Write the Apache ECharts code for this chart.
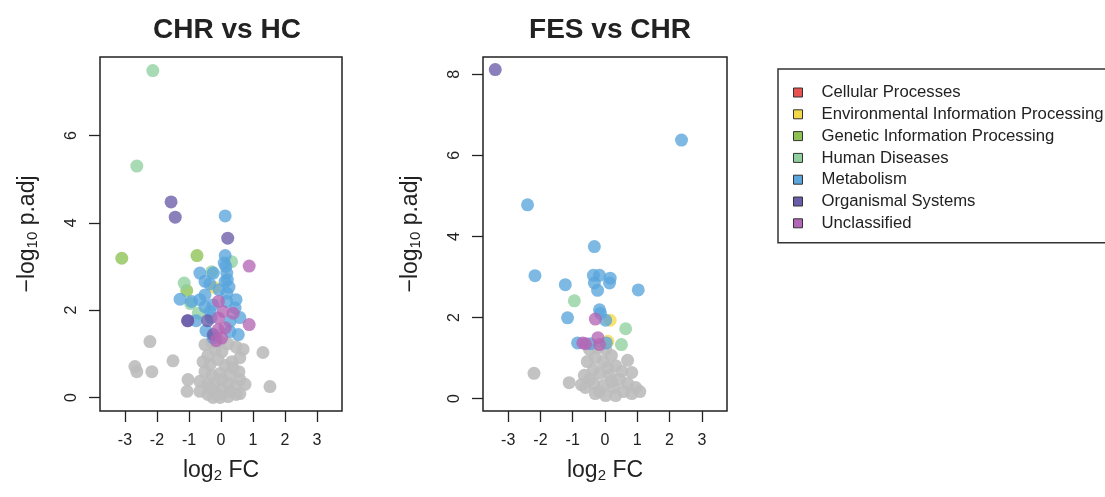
<!DOCTYPE html>
<html>
<head>
<meta charset="utf-8">
<title>Volcano plots</title>
<script src="https://cdn.jsdelivr.net/npm/echarts@6/dist/echarts.min.js"></script>
<style>
    html, body { margin: 0; padding: 0; background: #fff; }
    #chart { width: 1105px; height: 497px; }
</style>
</head>
<body>
<div id="chart"></div>
<script>
// categorias do KEGG (ordem da legenda)
const categories = [
    'Cellular Processes',
    'Environmental Information Processing',
    'Genetic Information Processing',
    'Human Diseases',
    'Metabolism',
    'Organismal Systems',
    'Unclassified'
];
const categoryColors = ['#e8524f', '#f3d84a', '#8dc153', '#8fcf9f', '#5aa5dc', '#6a5ca8', '#b366b5'];
const greyColor = '#bdbdbd';

const xTicks = [-3, -2, -1, 0, 1, 2, 3];
const yTicksHc = [0, 2, 4, 6];
const yTicksFes = [0, 2, 4, 6, 8];
const panelTitles = ['CHR vs HC', 'FES vs CHR'];

// --- CHR vs HC: [log2 FC, -log10 p.adj] ---
const hcCellular = [];
const hcEnvironmental = [[-0.21, 2.52]];
const hcGenetic = [[-3.10, 3.19], [-0.75, 3.25], [-1.07, 2.45]];
const hcHuman = [[-2.13, 7.49], [-2.63, 5.30], [0.33, 3.11], [-0.29, 2.88], [-1.15, 2.62], [-0.71, 1.93], [-0.95, 2.15]];
const hcMetabolism = [
    [0.13, 4.16], [0.13, 3.25], [0.10, 3.08], [-0.66, 2.85], [-0.24, 2.85], [0.18, 2.85], [0.13, 2.66],
    [-0.50, 2.66], [-1.28, 2.25], [-0.92, 2.20], [-0.50, 2.35], [0.18, 2.39], [0.18, 2.20], [-0.50, 2.08],
    [0.44, 2.05], [-0.34, 1.97], [0.28, 1.74], [0.28, 1.51], [0.54, 1.44], [-0.06, 2.47], [0.25, 2.53],
    [-0.66, 2.24], [-0.25, 2.12], [-0.78, 1.76], [-0.31, 1.83], [0.59, 1.83], [0.47, 2.24], [-0.47, 1.53],
    [-0.25, 1.37], [0.15, 3.00], [0.20, 2.70], [-0.35, 2.60]
];
const hcOrganismal = [[-1.56, 4.48], [-1.43, 4.13], [0.21, 3.65], [-1.04, 1.76], [-1.04, 1.76], [-0.42, 1.76], [-0.24, 1.44]];
const hcUnclassified = [[0.88, 3.01], [-0.08, 2.20], [0.07, 1.97], [0.38, 1.93], [-0.08, 1.82], [0.88, 1.67], [0.02, 1.36], [-0.09, 1.55], [0.13, 1.60], [-0.15, 1.30]];
const hcNotSig = [
    [-2.22, 1.28], [-2.69, 0.71], [-2.63, 0.59], [-2.16, 0.59], [-1.50, 0.84], [1.31, 1.03], [1.53, 0.25],
    [-1.03, 0.41], [-1.06, 0.14], [0.59, 0.09], [-0.50, 1.21], [-0.28, 1.26], [-0.03, 1.28], [0.22, 1.23],
    [0.47, 1.16], [0.69, 1.10], [0.59, 0.91], [0.34, 0.82], [0.03, 1.05], [-0.19, 1.10], [-0.41, 0.96],
    [-0.56, 0.82], [-0.34, 0.75], [-0.09, 0.87], [0.13, 0.73], [0.38, 0.68], [0.56, 0.59], [0.28, 0.53],
    [-0.03, 0.55], [-0.28, 0.50], [-0.50, 0.59], [-0.66, 0.37], [-0.41, 0.30], [-0.19, 0.34], [0.03, 0.41],
    [0.22, 0.32], [0.44, 0.27], [0.59, 0.41], [0.75, 0.30], [0.28, 0.14], [0.03, 0.18], [-0.19, 0.14],
    [-0.41, 0.07], [-0.25, 0.00], [-0.03, 0.00], [0.22, 0.02], [0.47, 0.07], [-0.66, 0.14], [-0.09, 0.07],
    [-0.34, 0.23]
];

// --- FES vs CHR ---
const fesCellular = [];
const fesEnvironmental = [[0.16, 1.93], [0.09, 1.41]];
const fesGenetic = [];
const fesHuman = [[-0.95, 2.41], [0.64, 1.72], [0.51, 1.33]];
const fesMetabolism = [
    [2.37, 6.38], [-2.40, 4.78], [-0.33, 3.75], [-2.17, 3.03], [-0.36, 3.04], [-0.17, 3.04], [0.16, 2.97],
    [0.14, 2.85], [-0.33, 2.85], [-1.23, 2.81], [-0.23, 2.67], [1.03, 2.68], [-0.17, 2.19], [-0.14, 2.10],
    [-1.16, 1.99], [0.02, 1.93], [-0.85, 1.37], [0.04, 1.37], [-0.45, 1.35]
];
const fesOrganismal = [[-3.40, 8.12]];
const fesUnclassified = [[-0.30, 1.96], [-0.69, 1.37], [-0.22, 1.50], [-0.17, 1.33], [-0.60, 1.35]];
const fesNotSig = [
    [-2.20, 0.62], [-1.11, 0.39], [0.70, 0.94], [0.83, 0.64], [-0.48, 1.21], [-0.23, 1.26], [0.02, 1.21],
    [0.20, 1.06], [-0.30, 1.01], [-0.55, 0.91], [-0.05, 0.91], [0.33, 0.81], [0.52, 0.67], [-0.36, 0.71],
    [-0.64, 0.57], [-0.17, 0.62], [0.14, 0.57], [0.45, 0.47], [0.70, 0.37], [0.95, 0.27], [1.08, 0.17],
    [0.83, 0.12], [0.58, 0.17], [0.27, 0.27], [-0.05, 0.32], [-0.36, 0.37], [-0.61, 0.27], [-0.30, 0.12],
    [0.02, 0.07], [0.33, 0.07], [-0.17, 0.17], [0.20, 0.42], [-0.48, 0.47], [0.08, 0.76], [-0.73, 0.34]
];

const hcGroups = [hcCellular, hcEnvironmental, hcGenetic, hcHuman, hcMetabolism, hcOrganismal, hcUnclassified];
const fesGroups = [fesCellular, fesEnvironmental, fesGenetic, fesHuman, fesMetabolism, fesOrganismal, fesUnclassified];

document.addEventListener('DOMContentLoaded', function() {
    const chart = echarts.init(document.getElementById('chart'));
    const fontFamily = '"Liberation Sans", Arial, sans-serif';
    const textColor = '#222';

    // nome do eixo com subscrito (log2 / log10)
    const nameRich = {
        n: { fontSize: 23, fontFamily: fontFamily, color: textColor },
        s: { fontSize: 15, fontFamily: fontFamily, color: textColor, padding: [10, 0, 0, 0] }
    };

    function makeXAxis(gridIndex) {
        return {
            type: 'value',
            gridIndex: gridIndex,
            min: -3.78,
            max: 3.78,
            name: '{n|log}{s|2}{n| FC}',
            nameLocation: 'middle',
            nameGap: 47,
            nameTextStyle: { color: textColor, fontFamily: fontFamily, rich: nameRich },
            axisLine: { show: false, onZero: false },
            splitLine: { show: false },
            axisTick: { show: true, inside: false, length: 11, customValues: xTicks, lineStyle: { color: textColor, width: 1.3 } },
            axisLabel: { customValues: xTicks, margin: 22, fontSize: 16, color: textColor, fontFamily: fontFamily }
        };
    }

    function makeYAxis(gridIndex, max, ticks) {
        return {
            type: 'value',
            gridIndex: gridIndex,
            min: -0.31,
            max: max,
            name: '{n|\u2212log}{s|10}{n| p.adj}',
            nameLocation: 'middle',
            nameRotate: 90,
            nameGap: 60,
            nameTextStyle: { color: textColor, fontFamily: fontFamily, rich: nameRich },
            axisLine: { show: false, onZero: false },
            splitLine: { show: false },
            axisTick: { show: true, inside: false, length: 11, customValues: ticks, lineStyle: { color: textColor, width: 1.3 } },
            axisLabel: { customValues: ticks, rotate: 90, margin: 20, fontSize: 16, color: textColor, fontFamily: fontFamily }
        };
    }

    const series = [];
    // pontos não significativos (cinza) primeiro, por baixo
    [hcNotSig, fesNotSig].forEach((pts, i) => {
        series.push({
            name: 'NS',
            type: 'scatter',
            xAxisIndex: i,
            yAxisIndex: i,
            data: pts,
            symbolSize: 13,
            itemStyle: { color: greyColor, opacity: 0.9 },
            silent: true
        });
    });
    [hcGroups, fesGroups].forEach((groups, i) => {
        groups.forEach((pts, c) => {
            series.push({
                name: categories[c],
                type: 'scatter',
                xAxisIndex: i,
                yAxisIndex: i,
                data: pts,
                symbolSize: 13,
                itemStyle: { color: categoryColors[c], opacity: 0.78 }
            });
        });
    });

    chart.setOption({
        animation: false,
        title: [
            { text: panelTitles[0], left: 222, top: 11, textAlign: 'center', textStyle: { fontSize: 28, fontWeight: 'bold', color: textColor, fontFamily: fontFamily } },
            { text: panelTitles[1], left: 605, top: 11, textAlign: 'center', textStyle: { fontSize: 28, fontWeight: 'bold', color: textColor, fontFamily: fontFamily } }
        ],
        legend: {
            orient: 'vertical',
            left: 778,
            top: 69,
            data: categories.map((name, c) => ({ name: name, itemStyle: { color: categoryColors[c], opacity: 1, borderColor: '#333', borderWidth: 1 } })),
            icon: 'rect',
            itemWidth: 9,
            itemHeight: 9,
            itemGap: 4.8,
            padding: [15, 30, 11, 15],
            borderColor: '#333',
            borderWidth: 1.5,
            textStyle: { fontSize: 16.7, color: textColor, fontFamily: fontFamily, padding: [0, 0, 0, 14] }
        },
        grid: [
            { left: 100, top: 57, width: 242, height: 354, show: true, borderColor: textColor, borderWidth: 1.5, backgroundColor: 'transparent' },
            { left: 483, top: 57, width: 244, height: 354, show: true, borderColor: textColor, borderWidth: 1.5, backgroundColor: 'transparent' }
        ],
        xAxis: [makeXAxis(0), makeXAxis(1)],
        yAxis: [makeYAxis(0, 7.8, yTicksHc), makeYAxis(1, 8.43, yTicksFes)],
        series: series
    });

    window.addEventListener('resize', function() {
        chart.resize();
    });
});
</script>
</body>
</html>
